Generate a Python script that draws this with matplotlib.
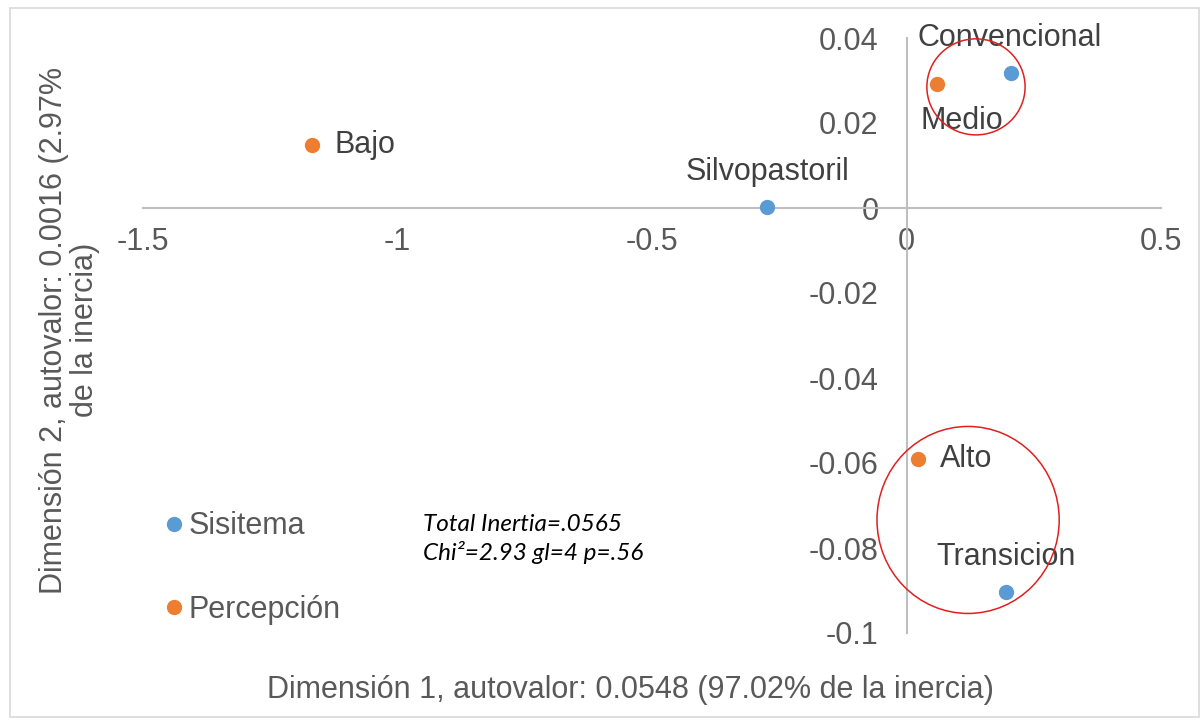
import matplotlib.pyplot as plt
from matplotlib.patches import Ellipse, Rectangle
from matplotlib.lines import Line2D

# Data
sistema_labels = ['Silvopastoril', 'Convencional', 'Transicion']
sistema_x = [-0.274, 0.205, 0.195]
sistema_y = [0.0003, 0.0318, -0.0904]

percepcion_labels = ['Bajo', 'Medio', 'Alto']
percepcion_x = [-1.168, 0.060, 0.023]
percepcion_y = [0.0148, 0.0292, -0.059]

x_ticks = [-1.5, -1, -0.5, 0, 0.5]
y_ticks = [-0.1, -0.08, -0.06, -0.04, -0.02, 0, 0.02, 0.04]

# hand-drawn highlight circles (center x, center y, width, height)
circles = [(0.1365, 0.0285, 0.193, 0.0226), (0.121, -0.0734, 0.358, 0.044)]

BLUE = '#5B9BD5'
ORANGE = '#ED7D31'
TXT = '#595959'
AXC = '#BFBFBF'
FS = 22

plt.rcParams['font.family'] = ['Liberation Sans', 'DejaVu Sans']

fig = plt.figure(figsize=(12.02, 7.24), dpi=100)
fig.patches.append(Rectangle((10 / 1202, 1 - 717 / 724), 1189 / 1202, 709 / 724,
                             transform=fig.transFigure, fill=False,
                             edgecolor='#D9D9D9', lw=1.2))

ax = fig.add_axes([143 / 1202, 1 - 633 / 724, 1018 / 1202, 595 / 724])
ax.set_xlim(-1.5, 0.5)
ax.set_ylim(-0.1, 0.04)

for s in ['top', 'right']:
    ax.spines[s].set_visible(False)
ax.spines['left'].set_position(('data', 0))
ax.spines['bottom'].set_position(('data', 0))
for s in ['left', 'bottom']:
    ax.spines[s].set_color(AXC)
    ax.spines[s].set_linewidth(1.5)

ax.set_xticks(x_ticks)
ax.set_xticklabels([f'{v:g}' for v in x_ticks])
ax.set_yticks(y_ticks)
ax.set_yticklabels([f'{v:g}' for v in y_ticks])
ax.tick_params(axis='both', length=0, labelsize=FS, labelcolor=TXT)
ax.tick_params(axis='x', pad=14)
ax.tick_params(axis='y', pad=20)

ax.scatter(sistema_x, sistema_y, s=100, color=BLUE, zorder=3)
ax.scatter(percepcion_x, percepcion_y, s=100, color=ORANGE, zorder=3)

# point labels (offsets in points)
offsets = {
    'Silvopastoril': (0, 25, 'center'),
    'Convencional': (-1, 25, 'center'),
    'Transicion': (0, 25, 'center'),
    'Bajo': (16, 0, 'left'),
    'Medio': (18, -27, 'center'),
    'Alto': (16, 0, 'left'),
}
for lab, x, y in zip(sistema_labels + percepcion_labels,
                     sistema_x + percepcion_x, sistema_y + percepcion_y):
    dx, dy, ha = offsets[lab]
    ax.annotate(lab, (x, y), xytext=(dx, dy), textcoords='offset points',
                ha=ha, va='center', fontsize=FS, color='#404040')

for cx, cy, w, h in circles:
    ax.add_patch(Ellipse((cx, cy), w, h, fill=False, edgecolor='#E02020',
                         lw=1.1, zorder=4))

ax.set_xlabel('Dimensión 1, autovalor: 0.0548 (97.02% de la inercia)',
              fontsize=FS, color=TXT)
ax.xaxis.set_label_coords(487 / 1018, -42 / 595)
ax.set_ylabel('Dimensión 2, autovalor: 0.0016 (2.97%\nde la inercia)',
              fontsize=FS, color=TXT, linespacing=1.05)
ax.yaxis.set_label_coords(-43 / 1018, 303 / 595)

fig.text(423 / 1202, 1 - 539 / 724, 'Total Inertia=.0565\nChi²=2.93 gl=4 p=.56',
         fontsize=17.5, style='italic', family=['Lato', 'DejaVu Sans'],
         color='black', va='center', ha='left', linespacing=1.3)

handles = [Line2D([], [], ls='', marker='o', ms=10, color=BLUE),
           Line2D([], [], ls='', marker='o', ms=10, color=ORANGE)]
fig.legend(handles, ['Sisitema', 'Percepción'], loc='upper left',
           bbox_to_anchor=(150 / 1202, 1 - 496 / 724), frameon=False,
           fontsize=FS, labelcolor=TXT, labelspacing=1.75,
           handlelength=0.6, handletextpad=0.15, borderpad=0)

fig.savefig('out.png', dpi=100, facecolor='white')
